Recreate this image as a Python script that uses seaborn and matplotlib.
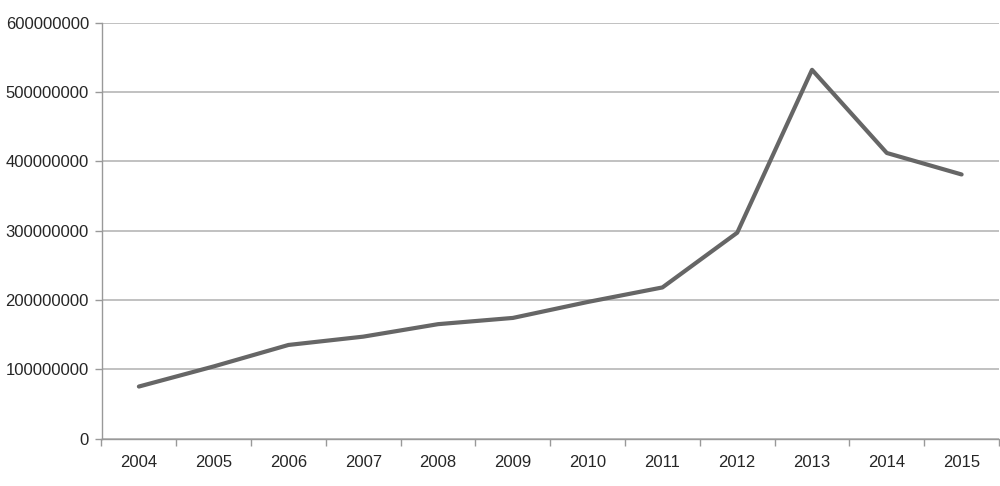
import matplotlib
matplotlib.use("Agg")
import matplotlib.pyplot as plt
import numpy as np
import pandas as pd
import seaborn as sns
from matplotlib.ticker import FixedLocator, FuncFormatter

years = ["2004", "2005", "2006", "2007", "2008", "2009",
         "2010", "2011", "2012", "2013", "2014", "2015"]
values = [75000000, 104000000, 135000000, 147000000, 165000000, 174000000,
          197000000, 218000000, 297000000, 532000000, 412000000, 381000000]
y_ticks = [0, 100000000, 200000000, 300000000, 400000000, 500000000, 600000000]

sns.set_style("white")
plt.rcParams["font.family"] = ["Liberation Sans", "DejaVu Sans"]

df = pd.DataFrame({"year": years, "value": values})

fig = plt.figure(figsize=(10, 4.86), dpi=100)
ax = fig.add_axes([0.1015, 0.0977, 0.8975, 0.8556])

sns.lineplot(data=df, x="year", y="value", color="#666666", linewidth=3.0,
             ax=ax, sort=False)

ax.set_xlim(-0.5, len(years) - 0.5)
ax.set_ylim(0, 600000000)
ax.set_xlabel("")
ax.set_ylabel("")

ax.yaxis.set_major_locator(FixedLocator(y_ticks))
ax.yaxis.set_major_formatter(FuncFormatter(lambda v, p: f"{int(v)}"))
ax.grid(axis="y", color="#b0b0b0", linewidth=1.1)
ax.set_axisbelow(True)

ax.set_xticks(range(len(years)))
ax.set_xticklabels(years)
ax.xaxis.set_minor_locator(FixedLocator(np.arange(-0.5, len(years), 1.0)))
ax.tick_params(axis="x", which="major", length=0, pad=12, labelsize=12)
ax.tick_params(axis="x", which="minor", length=5, color="#999999", width=1,
               direction="out", bottom=True)
ax.tick_params(axis="y", which="major", length=5, color="#999999", width=1,
               direction="out", left=True, labelsize=12, pad=4)

for side in ["top", "right"]:
    ax.spines[side].set_visible(False)
for side in ["left", "bottom"]:
    ax.spines[side].set_color("#999999")
    ax.spines[side].set_linewidth(1)

fig.savefig("out.png", dpi=100)
